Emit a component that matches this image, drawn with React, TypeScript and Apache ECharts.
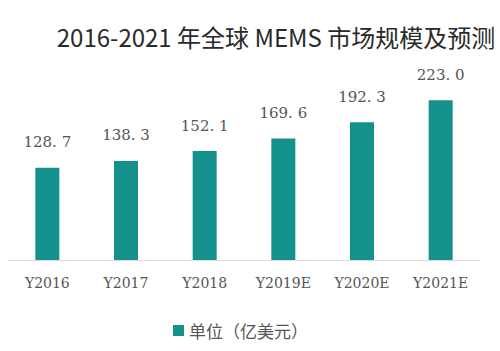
import React, { useEffect, useRef } from "react";
import * as echarts from "echarts";

const categories = ["Y2016", "Y2017", "Y2018", "Y2019E", "Y2020E", "Y2021E"];
const values = [128.7, 138.3, 152.1, 169.6, 192.3, 223.0];
const seriesName = "单位（亿美元）";
const titleText = "2016-2021 年全球 MEMS 市场规模及预测";

export default function App() {
  const ref = useRef<HTMLDivElement>(null);
  useEffect(() => {
    if (!ref.current) return;
    const chart = echarts.init(ref.current, null, { renderer: "svg" });
    chart.setOption({
      animation: false,
      backgroundColor: "#ffffff",
      title: {
        text: titleText,
        left: 271,
        textAlign: "center",
        top: 19,
        textStyle: {
          fontFamily: "'Noto Sans CJK SC', sans-serif",
          fontSize: 24,
          fontWeight: "normal",
          color: "#2a2a2a",
        },
      },
      legend: {
        data: [seriesName],
        bottom: 7,
        left: 168,
        itemWidth: 11,
        itemHeight: 11,
        itemGap: 8,
        icon: "rect",
        textStyle: {
          fontFamily: "'Noto Sans CJK SC', sans-serif",
          fontSize: 17,
          color: "#555555",
        },
      },
      grid: { left: 8, right: 20, top: 81, bottom: 91, containLabel: false },
      xAxis: {
        type: "category",
        data: categories,
        axisLine: { lineStyle: { color: "#d9d9d9", width: 1 } },
        axisTick: { show: false },
        axisLabel: {
          fontFamily: "'DejaVu Serif', 'Liberation Serif', serif",
          fontSize: 14,
          color: "#555555",
          margin: 16,
        },
      },
      yAxis: {
        type: "value",
        min: 0,
        max: 250,
        show: false,
        splitLine: { show: false },
      },
      series: [
        {
          name: seriesName,
          type: "bar",
          data: values,
          barWidth: 24,
          itemStyle: { color: "#14918d" },
          label: {
            show: true,
            position: "top",
            distance: 18,
            formatter: (p: any) => p.value.toFixed(1).replace(".", ". "),
            fontFamily: "'DejaVu Serif', 'Liberation Serif', serif",
            fontSize: 15,
            color: "#555555",
          },
        },
      ],
    });
    return () => chart.dispose();
  }, []);
  return (
    <div
      ref={ref}
      style={{ position: "fixed", left: 0, top: 0, width: 500, height: 351 }}
    />
  );
}
